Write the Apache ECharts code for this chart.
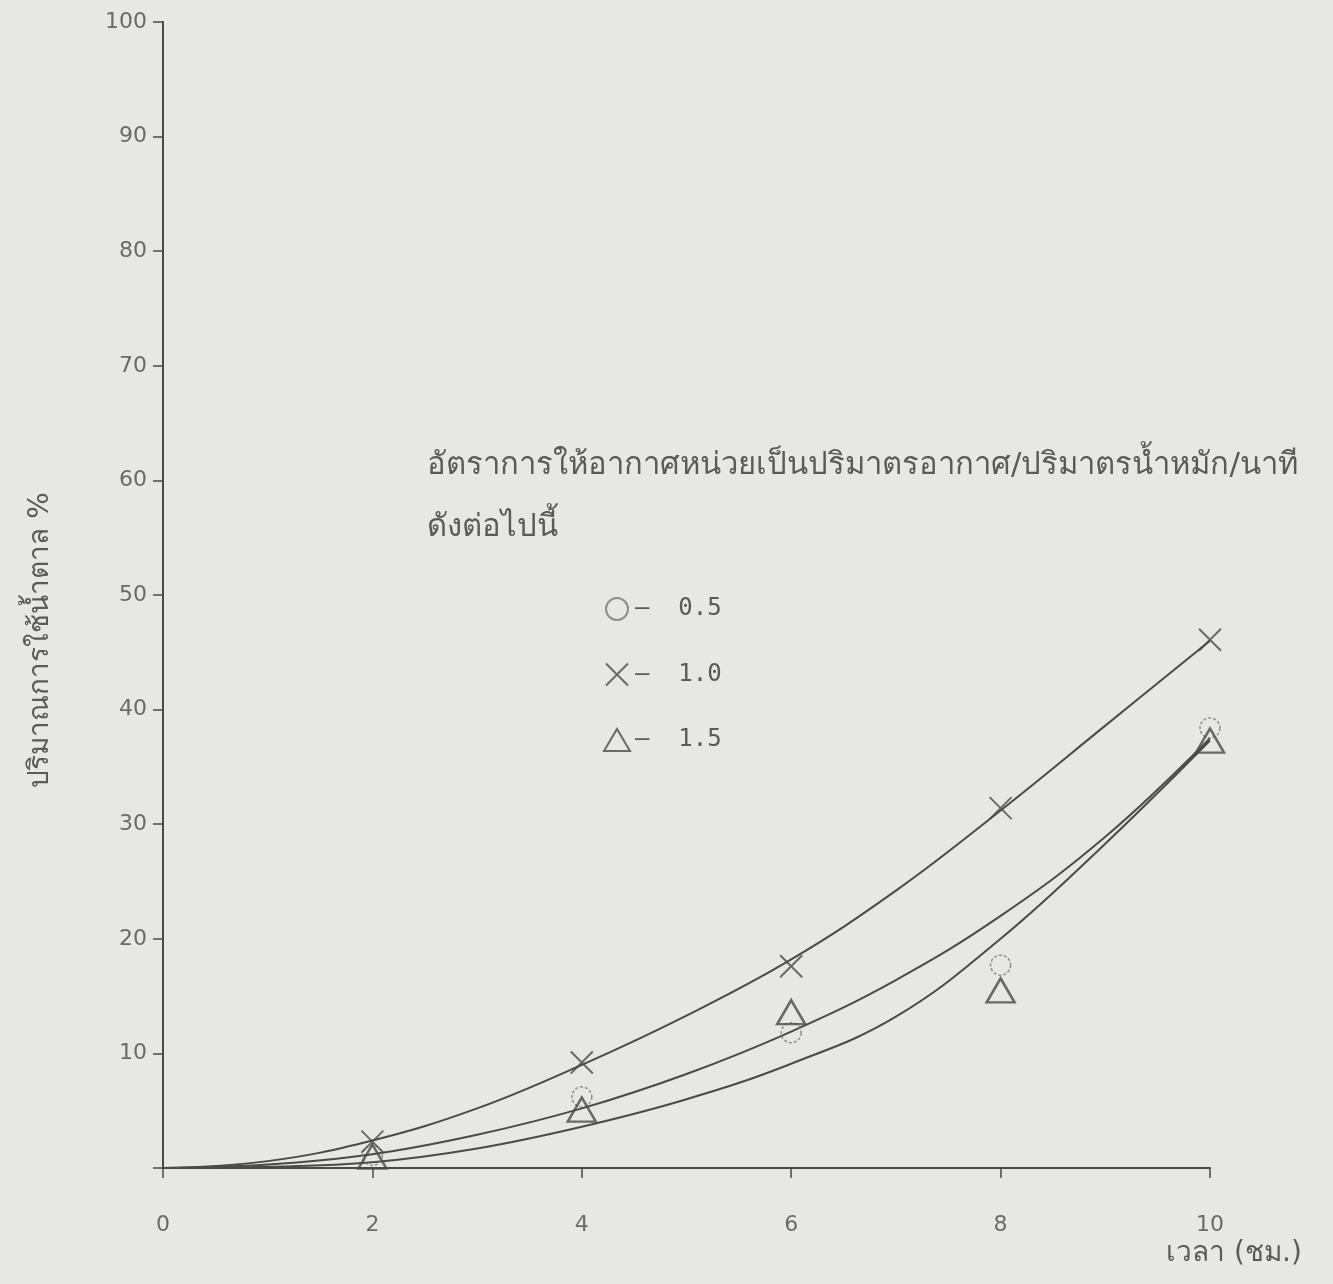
<!DOCTYPE html>
<html>
<head>
<meta charset="utf-8">
<title>ปริมาณการใช้น้ำตาล</title>
<script src="https://cdn.jsdelivr.net/npm/echarts@6/dist/echarts.min.js"></script>
<style>
  html, body { margin: 0; padding: 0; background: #e7e7e4; }
  #chart { width: 1333px; height: 1284px; }
</style>
</head>
<body>
<div id="chart"></div>
<script>
  // ชั่วโมงที่วัด
  const hours = [2, 4, 6, 8, 10];
  // จุดที่วัดได้ (ค่าประมาณจากภาพ)
  const rate05 = [1.1, 6.2, 11.8, 17.7, 38.4];
  const rate10 = [2.3, 9.2, 17.6, 31.4, 46.1];
  const rate15 = [1.0, 5.1, 13.6, 15.5, 37.3];

  // เส้นโค้งที่ลากด้วยมือ อ่านค่าจากภาพทุก 1 ชม.
  const curveHours = [0, 1, 2, 3, 4, 5, 6, 7, 8, 9, 10];
  const curveTop = [0, 0.6, 2.4, 5.2, 9.0, 13.3, 18.2, 24.2, 31.2, 38.6, 46.0];
  const curveMid = [0, 0.3, 1.2, 2.9, 5.2, 8.2, 11.9, 16.4, 22.0, 28.9, 37.5];
  const curveLow = [0, 0.1, 0.5, 1.7, 3.6, 6.0, 9.1, 13.2, 20.0, 28.3, 37.3];

  const xTicks = [0, 2, 4, 6, 8, 10];

  const ink = '#4a4a4a';
  const labelColor = '#6a6a6a';

  function pairs(xs, ys) {
    return xs.map((x, i) => [x, ys[i]]);
  }

  function curve(ys) {
    return {
      type: 'line',
      data: pairs(curveHours, ys),
      smooth: 0.4,
      showSymbol: false,
      silent: true,
      lineStyle: { color: ink, width: 2 },
      z: 2
    };
  }

  let chart = echarts.init(document.getElementById('chart'));
  let option = {
    backgroundColor: '#e7e7e4',
    animation: false,
    textStyle: { fontFamily: 'DejaVu Sans, Noto Sans, sans-serif' },
    grid: { left: 163, right: 123, top: 22, bottom: 116 },
    title: {
      text: 'อัตราการให้อากาศหน่วยเป็นปริมาตรอากาศ/ปริมาตรน้ำหมัก/นาที\nดังต่อไปนี้',
      left: 422,
      top: 430,
      textStyle: {
        color: '#5a5a5a',
        fontSize: 31,
        fontWeight: 'normal',
        lineHeight: 62
      }
    },
    legend: {
      orient: 'vertical',
      left: 598,
      top: 592,
      itemGap: 40,
      itemWidth: 26,
      itemHeight: 22,
      data: ['0.5', '1.0', '1.5'],
      formatter: name => '–  ' + name,
      textStyle: { color: '#5a5a5a', fontSize: 24, fontFamily: 'DejaVu Sans Mono, monospace' }
    },
    xAxis: {
      type: 'value',
      min: 0,
      max: 10,
      interval: 2,
      name: 'เวลา (ชม.)',
      nameLocation: 'end',
      nameGap: 24,
      nameTextStyle: {
        color: '#5a5a5a',
        fontSize: 28,
        align: 'center',
        verticalAlign: 'top',
        padding: [72, 0, 0, 0]
      },
      axisLine: { lineStyle: { color: ink, width: 2 } },
      axisTick: { show: true, inside: false, length: 10, lineStyle: { color: ink, width: 1.5 } },
      axisLabel: {
        color: labelColor,
        fontSize: 22,
        margin: 46,
        formatter: v => xTicks.indexOf(v) >= 0 ? String(v) : ''
      },
      splitLine: { show: false }
    },
    yAxis: {
      type: 'value',
      min: 0,
      max: 100,
      interval: 10,
      name: 'ปริมาณการใช้น้ำตาล %',
      nameLocation: 'middle',
      nameRotate: 90,
      nameGap: 108,
      nameTextStyle: { color: '#5a5a5a', fontSize: 28, padding: [0, 90, 0, 0] },
      axisLine: { lineStyle: { color: ink, width: 2 } },
      axisTick: { show: true, length: 10, lineStyle: { color: ink, width: 1.5 } },
      axisLabel: {
        color: labelColor,
        fontSize: 22,
        margin: 16,
        formatter: v => v === 0 ? '' : String(v)
      },
      splitLine: { show: false }
    },
    series: [
      curve(curveTop),
      curve(curveMid),
      curve(curveLow),
      {
        name: '0.5',
        type: 'scatter',
        data: pairs(hours, rate05),
        symbol: 'circle',
        symbolSize: 20,
        itemStyle: { color: 'rgba(0,0,0,0)', borderColor: '#777', borderWidth: 1.5, borderType: [3, 2] },
        z: 3
      },
      {
        name: '1.0',
        type: 'scatter',
        data: pairs(hours, rate10),
        symbol: 'path://M0,0L20,20M20,0L0,20',
        symbolSize: 22,
        itemStyle: { color: 'none', borderColor: ink, borderWidth: 2 },
        z: 4
      },
      {
        name: '1.5',
        type: 'scatter',
        data: pairs(hours, rate15),
        symbol: 'triangle',
        symbolSize: [28, 24],
        itemStyle: { color: 'rgba(0,0,0,0)', borderColor: ink, borderWidth: 2.5 },
        z: 4
      }
    ]
  };
  chart.setOption(option);
</script>
</body>
</html>
